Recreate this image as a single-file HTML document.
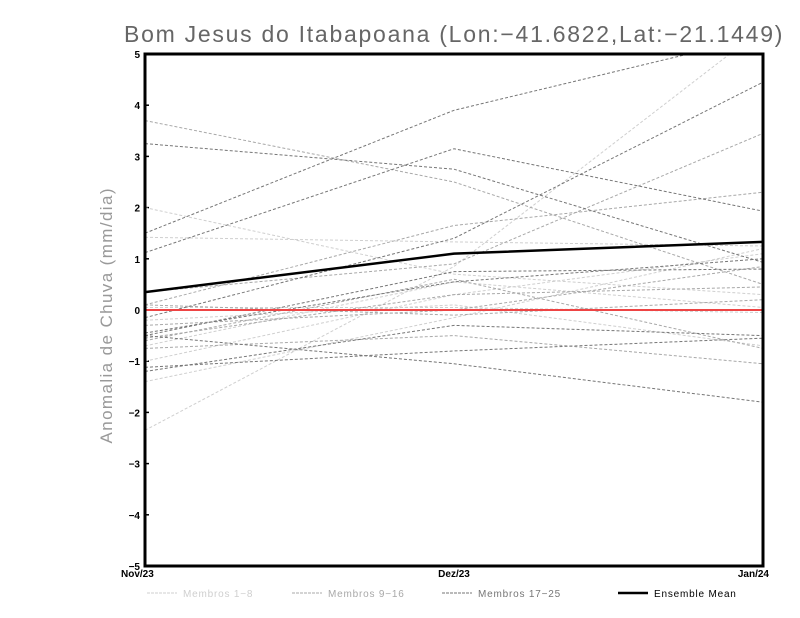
<!DOCTYPE html>
<html><head><meta charset="utf-8"><style>
body{margin:0;background:#fff;}
svg{display:block;font-family:"Liberation Sans",sans-serif;}
</style></head><body>
<svg id="chart" width="800" height="618" viewBox="0 0 800 618">
<defs><clipPath id="pc"><rect x="145" y="54" width="618" height="512"/></clipPath></defs>
<text x="454" y="42" text-anchor="middle" font-size="23" fill="#666" letter-spacing="1.6" textLength="660" lengthAdjust="spacing">Bom Jesus do Itabapoana (Lon:−41.6822,Lat:−21.1449)</text>
<text transform="translate(112,316) rotate(-90)" text-anchor="middle" font-size="17" fill="#999" textLength="255" lengthAdjust="spacing">Anomalia de Chuva (mm/dia)</text>
<g id="ticks"></g>
<g id="series" clip-path="url(#pc)"></g>
<rect x="145" y="54" width="618" height="512" fill="none" stroke="#000" stroke-width="3"/>
<g id="legend" font-size="10"></g>
</svg>
<script>
const categories=["Nov/23","Dez/23","Jan/24"];
const yTicks=[-5,-4,-3,-2,-1,0,1,2,3,4,5];
const membros1_8=[[2.0,0.7,0.3],[1.42,1.33,1.25],[-2.35,0.85,5.5],[-1.4,-0.15,1.2],[-1.0,0.3,1.1],[-0.7,0.55,0.05],[-0.2,0.1,-0.7],[0.05,0.05,-0.05]];
const membros9_16=[[3.7,2.5,0.5],[0.1,1.65,2.3],[0.35,0.9,3.45],[-0.6,0.6,-0.75],[-0.75,-0.5,-1.05],[-0.55,0.3,0.45],[-0.3,0.0,0.85],[0.1,-0.1,0.2]];
const membros17_25=[[1.5,3.9,5.35],[1.12,3.15,1.93],[3.25,2.75,0.93],[-0.15,1.4,4.45],[-0.5,0.75,0.8],[-0.45,0.55,1.0],[-1.2,-0.3,-0.5],[-1.12,-0.8,-0.55],[-0.5,-1.05,-1.8]];
const ensembleMean=[0.35,1.1,1.33];
const NS="http://www.w3.org/2000/svg";
const X0=145,X1=763,Y0=566,Y1=54;
function xs(i){return X0+(X1-X0)*i/(categories.length-1);}
function ys(v){return Y0-(v+5)/10*(Y0-Y1);}
function mk(t,a,p){const e=document.createElementNS(NS,t);for(const k in a)e.setAttribute(k,a[k]);p.appendChild(e);return e;}
const tk=document.getElementById('ticks');
yTicks.forEach(v=>{
 const t=mk('text',{x:140,y:ys(v)+4,'text-anchor':'end','font-size':10,'font-weight':'bold'},tk);
 t.textContent=String(v).replace('-','−');
 
 
 const l=mk('line',{x1:145,x2:149,y1:ys(v),y2:ys(v),stroke:'#000','stroke-width':1.5},tk);
 
 
});
categories.forEach((c,i)=>{
 const t=mk('text',{x:xs(i),y:577,'text-anchor':i==0?'start':(i==2?'end':'middle'),'font-size':10,'font-weight':'bold'},tk);
 if(i==0)t.setAttribute('x',X0-24);
 if(i==2)t.setAttribute('x',X1+6);
 t.textContent=c;
 
 
});
const sg=document.getElementById('series');
function line(vals,col,w,dash,name){
 const p=mk('polyline',{points:vals.map((v,i)=>xs(i)+','+ys(v)).join(' '),fill:'none',stroke:col,'stroke-width':w},sg);
 if(dash)p.setAttribute('stroke-dasharray',dash);
 
 
}
membros1_8.forEach(s=>line(s,'#cfcfcf',1,'3,2','member-line-1-8'));
membros9_16.forEach(s=>line(s,'#a8a8a8',1,'3,2','member-line-9-16'));
membros17_25.forEach(s=>line(s,'#767676',1,'3,2','member-line-17-25'));
const z=mk('line',{x1:X0,x2:X1,y1:ys(0),y2:ys(0),stroke:'#ee4444','stroke-width':2},sg);


line(ensembleMean,'#000',2.5,null,'ensemble-mean-line');
const lg=document.getElementById('legend');
const items=[['Membros 1−8','#cfcfcf',147,'3,1',1],['Membros 9−16','#a8a8a8',292,'3,1',1],['Membros 17−25','#767676',442,'3,1',1],['Ensemble Mean','#000',618,null,2.5]];
items.forEach(it=>{
 const l=mk('line',{x1:it[2],x2:it[2]+30,y1:593,y2:593,stroke:it[1],'stroke-width':it[4]},lg);
 if(it[3])l.setAttribute('stroke-dasharray',it[3]);
 
 
 const t=mk('text',{x:it[2]+36,y:597,fill:it[1]=='#000'?'#000':it[1],'letter-spacing':0.8},lg);
 t.textContent=it[0];
 
 
});
</script>
</body></html>
